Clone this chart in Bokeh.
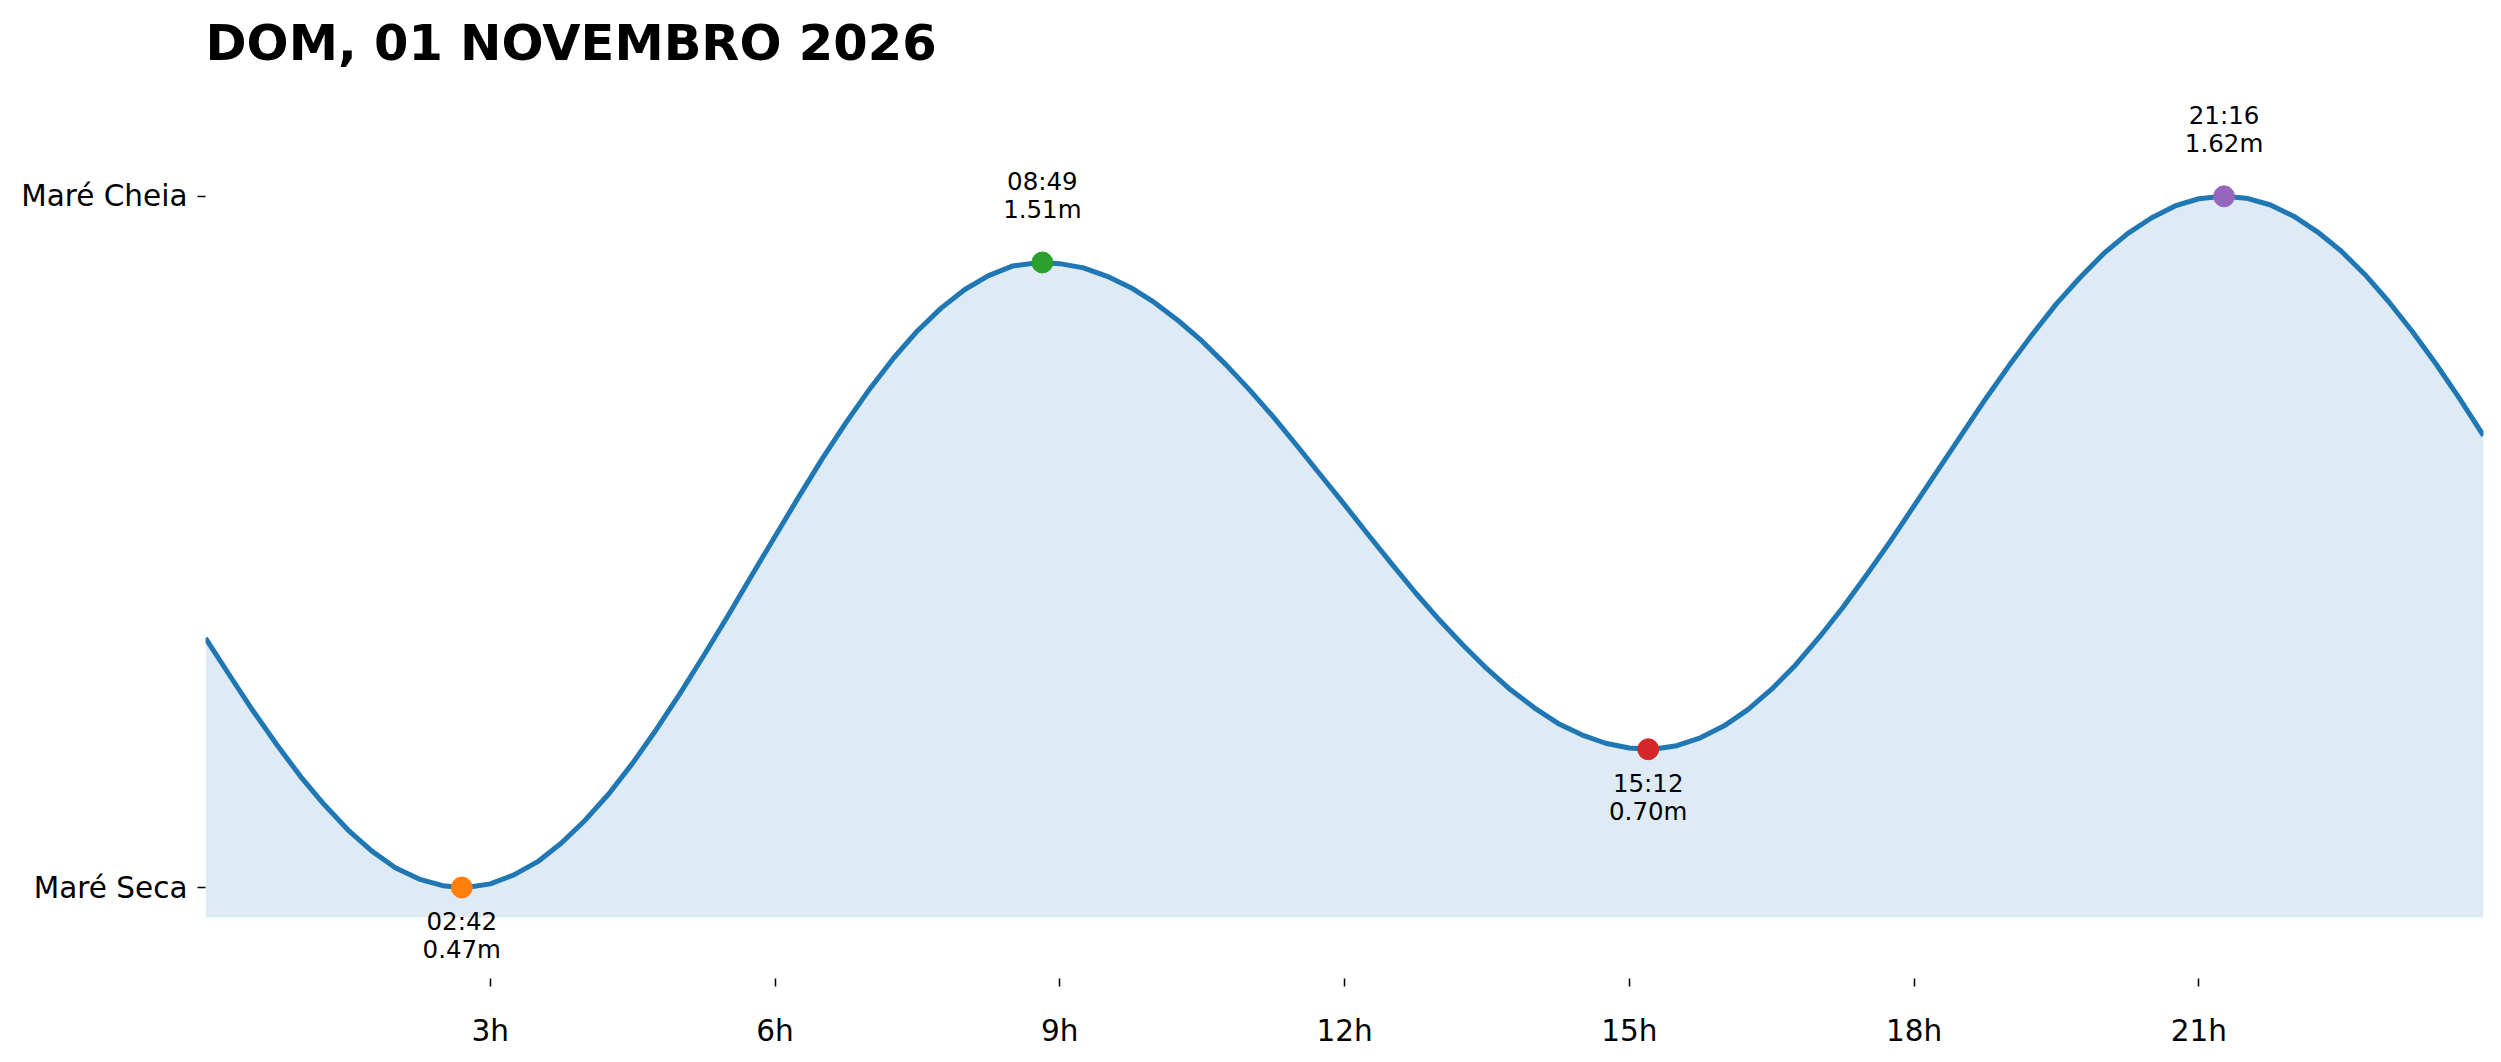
from bokeh.plotting import figure
from bokeh.models import ColumnDataSource, FixedTicker, Range1d
from bokeh.embed import file_html
from bokeh.resources import INLINE
from bokeh.core.properties import value

# ---------------- data ----------------
title_text = "DOM, 01 NOVEMBRO 2026"

tide_times = ["02:42", "08:49", "15:12", "21:16"]
tide_heights = [0.47, 1.51, 0.70, 1.62]
tide_types = ["low", "high", "low", "high"]
tide_colors = ["#ff7f0e", "#2ca02c", "#d62728", "#9467bd"]

# tide curve every quarter hour (metres), 00:00 .. 24:00
curve_hours = [i * 0.25 for i in range(97)]
curve_heights = [
    0.885, 0.824, 0.764, 0.708, 0.655, 0.608, 0.566, 0.531,   # 0:00 - 1:45
    0.503, 0.484, 0.473, 0.470, 0.476, 0.491, 0.513, 0.544,   # 2:00 - 3:45
    0.582, 0.626, 0.677, 0.733, 0.793, 0.856, 0.921, 0.988,   # 4:00 - 5:45
    1.054, 1.120, 1.184, 1.244, 1.300, 1.351, 1.396, 1.434,   # 6:00 - 7:45
    1.465, 1.488, 1.504, 1.509, 1.508, 1.501, 1.487, 1.468,   # 8:00 - 9:45
    1.443, 1.413, 1.379, 1.340, 1.298, 1.253, 1.205, 1.156,   # 10:00 - 11:45
    1.107, 1.057, 1.008, 0.960, 0.915, 0.873, 0.834, 0.799,   # 12:00 - 13:45
    0.769, 0.743, 0.724, 0.710, 0.702, 0.700, 0.706, 0.719,   # 14:00 - 15:45
    0.739, 0.766, 0.800, 0.840, 0.886, 0.936, 0.990, 1.046,   # 16:00 - 17:45
    1.105, 1.164, 1.223, 1.282, 1.338, 1.391, 1.441, 1.485,   # 18:00 - 19:45
    1.525, 1.558, 1.584, 1.604, 1.616, 1.620, 1.617, 1.606,   # 20:00 - 21:45
    1.587, 1.561, 1.529, 1.490, 1.445, 1.395, 1.341, 1.283,   # 22:00 - 23:45
    1.222,                                                    # 24:00
]

x_tick_hours = [3, 6, 9, 12, 15, 18, 21]
y_tick_names = {"low": "Maré Seca", "high": "Maré Cheia"}

# ---------------- derived ----------------
tide_hours = [int(t[:2]) + int(t[3:]) / 60.0 for t in tide_times]
pts = sorted(zip(curve_hours + tide_hours, curve_heights + tide_heights))
line_x = [a for a, b in pts]
line_y = [b for a, b in pts]

lo = min(tide_heights)
hi = max(tide_heights)
fill_base = lo - 0.05

FONT = "DejaVu Sans"

p = figure(width=2493, height=1054, output_backend="svg", toolbar_location=None,
           x_range=Range1d(0, 24), y_range=Range1d(0.3186, 1.8194),
           min_border_left=205, min_border_right=10, min_border_top=76,
           min_border_bottom=76)
p.outline_line_color = None
p.grid.visible = False
p.background_fill_color = "white"
p.border_fill_color = "white"

p.title.text = title_text
p.title.text_font = FONT
p.title.text_font_size = "49.5px"
p.title.text_font_style = "bold"
p.title.align = "left"
p.title.standoff = 10
p.title.text_color = "black"

curve_src = ColumnDataSource(dict(x=line_x, y=line_y, base=[fill_base] * len(line_x)))
p.varea(x="x", y1="base", y2="y", source=curve_src, fill_color="#1f77b4", fill_alpha=0.15)
p.line(x="x", y="y", source=curve_src, line_color="#1f77b4", line_width=5,
       line_join="round")

off1 = [-81 if k == "high" else 34 for k in tide_types]
off2 = [-53 if k == "high" else 62 for k in tide_types]
pt_src = ColumnDataSource(dict(
    x=tide_hours, y=tide_heights, color=tide_colors,
    t1=tide_times, t2=["%.2fm" % h for h in tide_heights],
    o1=off1, o2=off2))
p.scatter(x="x", y="y", source=pt_src, size=21, fill_color="color",
          line_color="color", marker="circle")
p.text(x="x", y="y", text="t1", source=pt_src, y_offset="o1",
       text_align="center", text_baseline="alphabetic",
       text_font=value(FONT), text_font_size="24.5px", text_color="black")
p.text(x="x", y="y", text="t2", source=pt_src, y_offset="o2",
       text_align="center", text_baseline="alphabetic",
       text_font=value(FONT), text_font_size="24.5px", text_color="black")

# axes
p.xaxis.ticker = FixedTicker(ticks=x_tick_hours)
p.xaxis.major_label_overrides = {h: "%dh" % h for h in x_tick_hours}
p.yaxis.ticker = FixedTicker(ticks=[lo, hi])
p.yaxis.major_label_overrides = {lo: y_tick_names["low"], hi: y_tick_names["high"]}

for ax in (p.xaxis, p.yaxis):
    ax.axis_line_color = None
    ax.minor_tick_line_color = None
    ax.major_tick_in = 0
    ax.major_tick_out = 8
    ax.major_tick_line_color = "black"
    ax.major_tick_line_width = 1.5
    ax.major_label_text_font = FONT
    ax.major_label_text_font_size = "29.5px"
    ax.major_label_text_color = "black"
p.xaxis.major_label_standoff = 27
p.yaxis.major_label_standoff = 10

open("out.html", "w").write(file_html(p, INLINE))
